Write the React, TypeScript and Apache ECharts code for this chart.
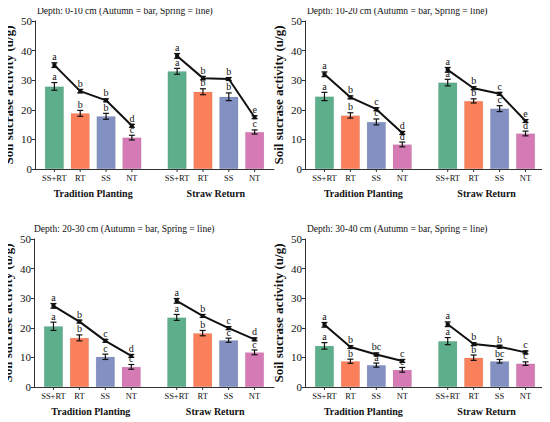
import React, { useEffect, useRef } from "react";
import * as echarts from "echarts";

const treatments = ["SS+RT", "RT", "SS", "NT"];
const groups = ["Tradition Planting", "Straw Return"];
const depths = ["0-10 cm", "10-20 cm", "20-30 cm", "30-40 cm"];
const colors = ["#5DAE8B", "#F9805A", "#8290C2", "#D57AB5"];
const yTicks = [0, 10, 20, 30, 40, 50];

// Autumn (bars)
const barTP = [
  [27.9, 18.8, 17.8, 10.6],
  [24.5, 18.1, 15.9, 8.3],
  [20.5, 16.6, 10.2, 6.8],
  [13.9, 8.7, 7.4, 5.8],
];
const barSR = [
  [33.0, 26.1, 24.4, 12.5],
  [29.2, 23.0, 20.4, 12.0],
  [23.5, 18.2, 15.8, 11.7],
  [15.5, 9.9, 8.7, 7.9],
];
const barErrTP = [
  [1.3, 1.0, 1.0, 0.8],
  [1.4, 0.9, 1.0, 0.8],
  [1.4, 1.0, 0.9, 0.8],
  [1.1, 0.7, 0.7, 0.8],
];
const barErrSR = [
  [1.0, 1.0, 1.3, 0.7],
  [1.1, 0.7, 1.0, 0.8],
  [1.0, 0.9, 0.7, 0.8],
  [1.2, 0.9, 0.6, 0.6],
];
// Spring (line)
const lineTP = [
  [35.1, 26.3, 23.2, 14.6],
  [32.0, 24.2, 20.2, 12.2],
  [27.4, 22.1, 15.6, 10.5],
  [21.0, 13.5, 11.0, 8.8],
];
const lineSR = [
  [38.2, 30.7, 30.4, 17.5],
  [33.5, 27.3, 25.4, 16.2],
  [29.1, 24.0, 19.9, 16.1],
  [21.2, 14.5, 13.6, 11.7],
];
const lineErr = [
  [0.8, 0.6, 0.5, 0.5],
  [0.8, 0.5, 0.5, 0.5],
  [0.8, 0.5, 0.5, 0.5],
  [0.8, 0.5, 0.5, 0.5],
];
const barLetTP = [
  ["a", "b", "b", "c"],
  ["a", "b", "c", "d"],
  ["a", "b", "c", "c"],
  ["a", "b", "a", "c"],
];
const barLetSR = [
  ["a", "b", "b", "c"],
  ["a", "b", "c", "d"],
  ["a", "b", "c", "c"],
  ["a", "b", "bc", "c"],
];
const lineLetTP = [
  ["a", "b", "b", "d"],
  ["a", "b", "c", "d"],
  ["a", "b", "c", "d"],
  ["a", "b", "bc", "c"],
];
const lineLetSR = [
  ["a", "b", "b", "e"],
  ["a", "b", "c", "e"],
  ["a", "b", "c", "d"],
  ["a", "b", "b", "c"],
];

// x positions of the bars on the hidden value axis
const xTP = [0, 1, 2, 3];
const xSR = [4.75, 5.75, 6.75, 7.75];

const FONT = "Liberation Serif";

const panels = [
  { left: 35, top: 21, width: 239 },
  { left: 305, top: 21, width: 240 },
  { left: 32, top: 239, width: 242 },
  { left: 305, top: 239, width: 240 },
];
const PH = 148;

function errRender(capW: number, errs: number[], letters: string[]) {
  return (params: any, api: any) => {
    const idx = params.dataIndex;
    const x = api.value(0);
    const v = api.value(1);
    const e = errs[idx];
    const letter = letters[idx];
    const top = api.coord([x, v + e]);
    const bot = api.coord([x, v - e]);
    const st = { stroke: "#111", lineWidth: 1.2 };
    return {
      type: "group",
      children: [
        { type: "line", shape: { x1: top[0], y1: top[1], x2: bot[0], y2: bot[1] }, style: st },
        { type: "line", shape: { x1: top[0] - capW / 2, y1: top[1], x2: top[0] + capW / 2, y2: top[1] }, style: st },
        { type: "line", shape: { x1: bot[0] - capW / 2, y1: bot[1], x2: bot[0] + capW / 2, y2: bot[1] }, style: st },
        {
          type: "text",
          x: top[0],
          y: top[1] - 1,
          style: {
            text: letter,
            fill: "#111",
            font: `10px "${FONT}"`,
            align: "center",
            verticalAlign: "bottom",
          },
        },
      ],
    };
  };
}

export default function App() {
  const ref = useRef<HTMLDivElement>(null);
  useEffect(() => {
    if (!ref.current) return;
    const chart = echarts.init(ref.current, undefined, { renderer: "svg" });
    const grid: any[] = [];
    const xAxis: any[] = [];
    const yAxis: any[] = [];
    const series: any[] = [];
    const graphic: any[] = [];

    panels.forEach((p, i) => {
      grid.push({ left: p.left, top: p.top, width: p.width, height: PH });
      xAxis.push({
        type: "value",
        gridIndex: i,
        min: -0.75,
        max: 8.5,
        interval: 0.25,
        splitLine: { show: false },
        axisLine: { show: true, onZero: false, lineStyle: { color: "#333", width: 1 } },
        axisTick: { show: false },
        axisLabel: {
          fontFamily: FONT,
          fontSize: 8.5,
          color: "#111",
          margin: 4,
          formatter: (v: number) => {
            for (let k = 0; k < 4; k++) {
              if (Math.abs(v - xTP[k]) < 1e-6 || Math.abs(v - xSR[k]) < 1e-6) return treatments[k];
            }
            return "";
          },
        },
      });
      yAxis.push({
        type: "value",
        gridIndex: i,
        min: 0,
        max: 50,
        interval: 10,
        name: "Soil sucrase activity (u/g)",
        nameLocation: "middle",
        nameGap: 20,
        nameTextStyle: { fontFamily: FONT, fontWeight: "bold", fontSize: 13, color: "#111" },
        splitLine: { show: false },
        axisLine: { show: true, onZero: false, lineStyle: { color: "#333", width: 1 } },
        axisTick: { show: true, length: 3, lineStyle: { color: "#333" } },
        axisLabel: {
          fontFamily: FONT,
          fontSize: 11,
          color: "#111",
          margin: 3,
          formatter: (v: number) => (yTicks.indexOf(v) >= 0 ? String(v) : ""),
        },
      });

      const barData: any[] = [];
      const barPts: number[][] = [];
      const barErrs: number[] = [];
      const barLetters: string[] = [];
      for (let k = 0; k < 4; k++) {
        barData.push({ value: [xTP[k], barTP[i][k]], itemStyle: { color: colors[k] } });
        barPts.push([xTP[k], barTP[i][k]]);
        barErrs.push(barErrTP[i][k]);
        barLetters.push(barLetTP[i][k]);
      }
      for (let k = 0; k < 4; k++) {
        barData.push({ value: [xSR[k], barSR[i][k]], itemStyle: { color: colors[k] } });
        barPts.push([xSR[k], barSR[i][k]]);
        barErrs.push(barErrSR[i][k]);
        barLetters.push(barLetSR[i][k]);
      }
      series.push({
        type: "bar",
        xAxisIndex: i,
        yAxisIndex: i,
        barWidth: 19,
        data: barData,
        itemStyle: { borderColor: "rgba(0,0,0,0.12)", borderWidth: 0.5 },
        z: 2,
      });
      series.push({
        type: "custom",
        xAxisIndex: i,
        yAxisIndex: i,
        renderItem: errRender(6, barErrs, barLetters),
        encode: { x: 0, y: 1 },
        data: barPts,
        z: 3,
      });
      // tick marks under each bar
      series.push({
        type: "custom",
        xAxisIndex: i,
        yAxisIndex: i,
        renderItem: (params: any, api: any) => {
          const pt = api.coord([api.value(0), 0]);
          return {
            type: "line",
            shape: { x1: pt[0], y1: pt[1], x2: pt[0], y2: pt[1] + 3 },
            style: { stroke: "#333", lineWidth: 1 },
          };
        },
        encode: { x: 0, y: 1 },
        data: xTP.concat(xSR).map((x) => [x, 0]),
        z: 3,
      });
      [
        { xs: xTP, vals: lineTP[i], lets: lineLetTP[i] },
        { xs: xSR, vals: lineSR[i], lets: lineLetSR[i] },
      ].forEach((g) => {
        const pts = g.xs.map((x, k) => [x, g.vals[k]]);
        series.push({
          type: "line",
          xAxisIndex: i,
          yAxisIndex: i,
          data: pts,
          lineStyle: { color: "#111", width: 2 },
          itemStyle: { color: "#111" },
          symbol: "rect",
          symbolSize: 4,
          z: 4,
        });
        series.push({
          type: "custom",
          xAxisIndex: i,
          yAxisIndex: i,
          renderItem: errRender(6, lineErr[i], g.lets),
          encode: { x: 0, y: 1 },
          data: pts,
          z: 5,
        });
      });

      graphic.push({
        type: "text",
        x: p.left + 2,
        y: p.top - 10,
        style: {
          text: `Depth: ${depths[i]} (Autumn = bar, Spring = line)`,
          font: `9.5px "${FONT}"`,
          fill: "#111",
          verticalAlign: "middle",
        },
      });
      const scale = p.width / 9.25;
      const c0 = p.left + (1.5 + 0.75) * scale;
      const c1 = p.left + (6.25 + 0.75) * scale;
      [c0, c1].forEach((cx, gi) => {
        graphic.push({
          type: "text",
          x: cx,
          y: p.top + PH + 24,
          style: {
            text: groups[gi],
            font: `bold 10px "${FONT}"`,
            fill: "#111",
            align: "center",
            verticalAlign: "middle",
          },
        });
      });
    });

    chart.setOption({
      animation: false,
      backgroundColor: "#fff",
      grid,
      xAxis,
      yAxis,
      series,
      graphic,
    });
    return () => chart.dispose();
  }, []);
  return <div ref={ref} style={{ width: 550, height: 422, marginLeft: -8, marginTop: -8 }} />;
}
